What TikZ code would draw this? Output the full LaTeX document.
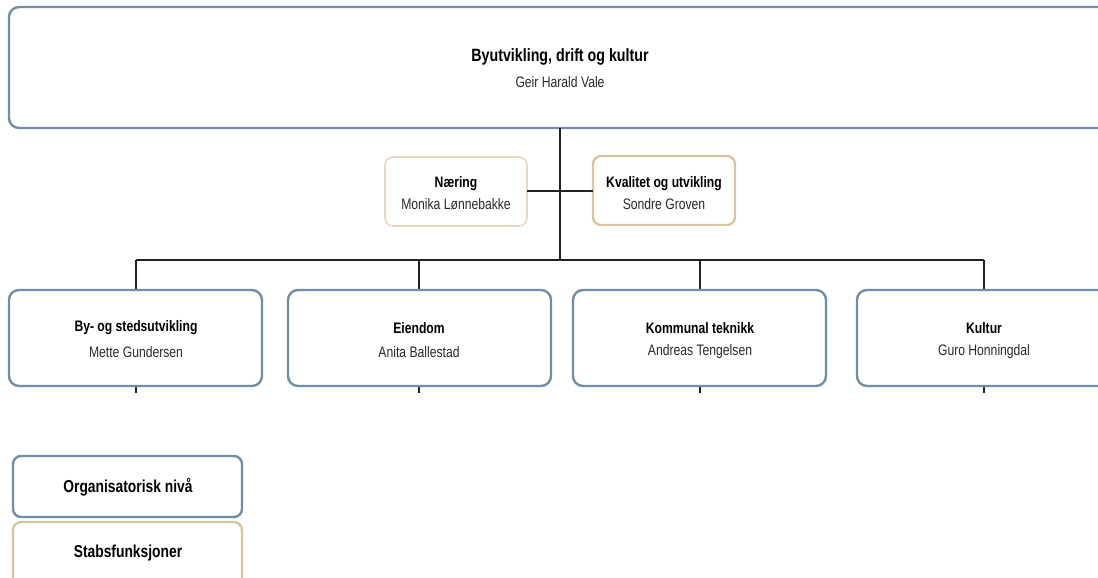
\documentclass[tikz,border=0pt]{standalone}
\usepackage{fontspec}
\setmainfont[FakeStretch=0.8]{Liberation Sans}
\definecolor{blueb}{HTML}{6F8FA6}
\definecolor{tanb}{HTML}{D8C6A0}
\definecolor{tanl}{HTML}{E6D9BE}
\definecolor{linec}{HTML}{222222}
\definecolor{namec}{HTML}{2A2A2A}
\tikzset{
  unit/.style={draw=blueb, line width=2.4pt, rounded corners=10pt, fill=white},
  staff/.style={draw=tanb, line width=2.4pt, rounded corners=8pt, fill=white},
  stafflight/.style={draw=tanl, line width=1.6pt, rounded corners=8pt, fill=white},
  conn/.style={draw=linec, line width=1.4pt},
  ttl/.style={font=\bfseries\fontsize{15.2}{18}\selectfont, text=black},
  bigttl/.style={font=\bfseries\fontsize{17.8}{20}\selectfont, text=black},
  legttl/.style={font=\bfseries\fontsize{17.3}{20}\selectfont, text=black},
  nm/.style={font=\fontsize{15.2}{18}\selectfont, text=namec},
}
\begin{document}
\begin{tikzpicture}[x=1pt,y=-1pt]
\useasboundingbox (0,0) rectangle (1098,578);
\clip (0,0) rectangle (1098,578);
\coordinate (hub) at (560,260);
\coordinate (b1) at (136,260);
\coordinate (b4) at (984,260);
% top box
\draw[unit] (9,7) rectangle (1115,128);
\node[bigttl] (topt) at (560,57) {Byutvikling, drift og kultur};
\node[nm] (topn) at (560,82) {Geir Harald Vale};
\coordinate (topb) at (560,128);
% staff boxes
\draw[stafflight] (385,157) rectangle (527,226);
\coordinate (nR) at (527,191);
\node[ttl] (nt) at (456,184) {Næring};
\node[nm] (nn) at (456,204) {Monika Lønnebakke};
\draw[staff] (593,156) rectangle (735,225);
\coordinate (kL) at (593,191);
\node[ttl] (kt) at (664,184) {Kvalitet og utvikling};
\node[nm] (kn) at (664,204) {Sondre Groven};
\draw[conn] (nR) -- (kL);
\draw[conn] (topb) -- (hub);
\draw[conn] (b1) -- (b4);
% unit boxes
\foreach \i/\xl/\xr/\cx/\t/\n in {1/9/262/136/By- og stedsutvikling/Mette Gundersen,
  2/288/551/419/Eiendom/Anita Ballestad,
  3/573/826/700/Kommunal teknikk/Andreas Tengelsen,
  4/857/1115/984/Kultur/Guro Honningdal}{
  \coordinate (d\i) at (\cx,260);
  \coordinate (u\i) at (\cx,290);
  \coordinate (s\i) at (\cx,386);
  \coordinate (e\i) at (\cx,393);
  \draw[conn] (d\i) -- (u\i);
  \draw[conn] (s\i) -- (e\i);
  \draw[unit] (\xl,290) rectangle (\xr,386);
  \node[ttl] (t\i) at (\cx,328) {\t};
  \node[nm] (n\i) at (\cx,352) {\n};
}
% legend
\draw[unit, rounded corners=8pt] (13,456) rectangle (242,517);
\node[legttl] (leg1) at (128,487) {Organisatorisk nivå};
\draw[staff] (13,522) rectangle (242,590);
\node[legttl] (leg2) at (128,553) {Stabsfunksjoner};
\end{tikzpicture}
\end{document}
